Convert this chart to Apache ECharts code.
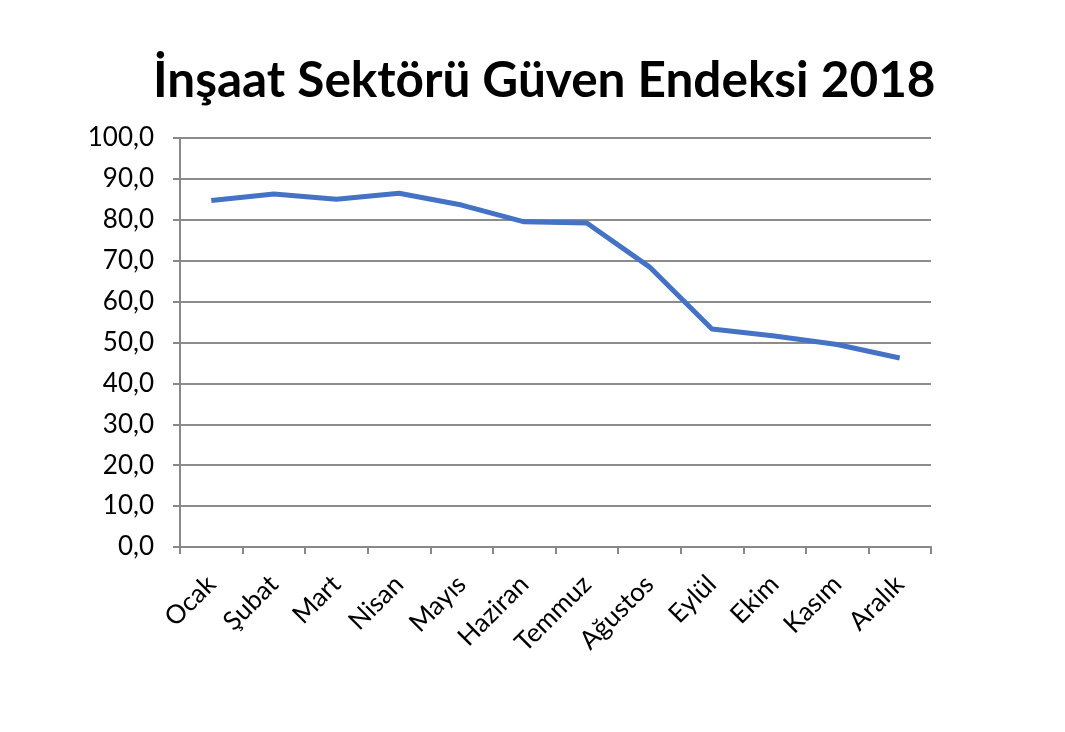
<!DOCTYPE html>
<html><head><meta charset="utf-8">
<script src="https://cdn.jsdelivr.net/npm/echarts@6/dist/echarts.min.js"></script>
<style>html,body{margin:0;padding:0;background:#fff}#c{width:1065px;height:732px}</style>
</head><body><div id="c"></div>
<script>
const titleText = 'İnşaat Sektörü Güven Endeksi 2018';
const months = ['Ocak','Şubat','Mart','Nisan','Mayıs','Haziran','Temmuz','Ağustos','Eylül','Ekim','Kasım','Aralık'];
const values = [84.7, 86.3, 85.0, 86.5, 83.6, 79.5, 79.2, 68.5, 53.3, 51.6, 49.5, 46.2];
const chart = echarts.init(document.getElementById('c'));
const font = 'Lato, "Open Sans", sans-serif';
chart.setOption({
  animation: false,
  title: {text: titleText, left: 148, top: 51,
    textStyle: {fontFamily: font, fontWeight: 'bold', fontSize: 49.5, color: '#000'}},
  grid: {left: 180, right: 134, top: 138, bottom: 185, containLabel: false},
  xAxis: {type: 'category', data: months, boundaryGap: true,
    axisLine: {lineStyle: {color: '#888', width: 2}},
    axisTick: {show: true, length: 7, lineStyle: {color: '#888', width: 2}},
    axisLabel: {rotate: 45, fontFamily: font, fontSize: 26, color: '#000', margin: 33, interval: 0}},
  yAxis: {type: 'value', min: 0, max: 100, interval: 10,
    axisLine: {show: true, lineStyle: {color: '#888', width: 2}},
    axisTick: {show: true, length: 7, lineStyle: {color: '#888', width: 2}},
    splitLine: {lineStyle: {color: '#8c8c8c', width: 2}},
    axisLabel: {fontFamily: font, fontSize: 26, color: '#000', margin: 26,
      formatter: v => v.toFixed(1).replace('.', ',')}},
  series: [{type: 'line', data: values, showSymbol: false, symbol: 'none',
    lineStyle: {color: '#4472C4', width: 5}}]
});
</script></body></html>
